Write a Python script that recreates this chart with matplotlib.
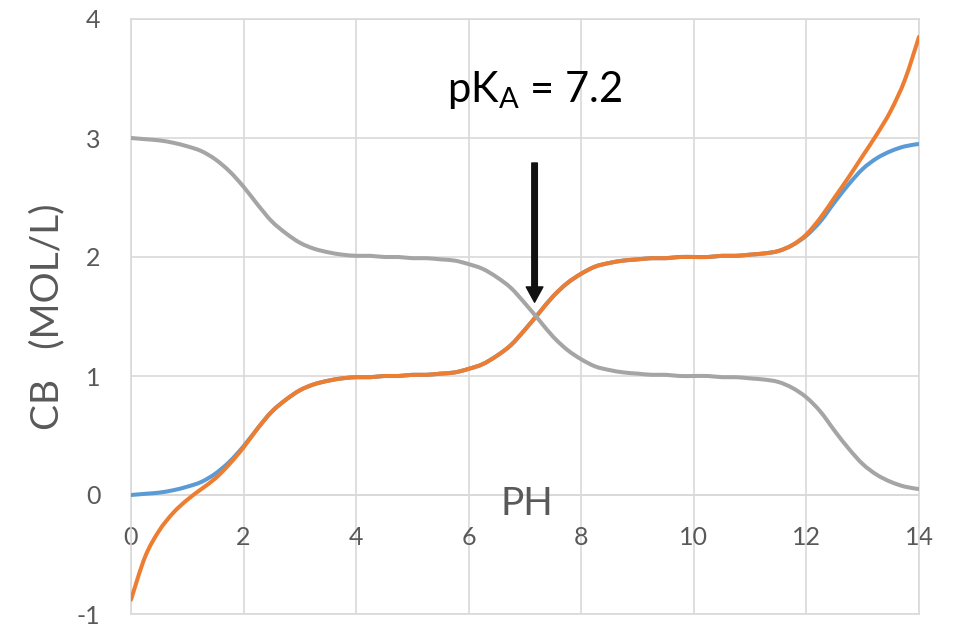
import numpy as np
import matplotlib
matplotlib.use("Agg")
import matplotlib.pyplot as plt
from matplotlib.path import Path
from matplotlib.patches import PathPatch

plt.rcParams['font.family'] = ['Lato', 'DejaVu Sans']
plt.rcParams['axes.unicode_minus'] = False

# pH values (0 .. 14 in quarter steps)
ph = [0, 0.25, 0.5, 0.75, 1, 1.25, 1.5, 1.75, 2, 2.25, 2.5, 2.75, 3, 3.25, 3.5, 3.75,
      4, 4.25, 4.5, 4.75, 5, 5.25, 5.5, 5.75, 6, 6.25, 6.5, 6.75, 7, 7.25, 7.5, 7.75,
      8, 8.25, 8.5, 8.75, 9, 9.25, 9.5, 9.75, 10, 10.25, 10.5, 10.75, 11, 11.25, 11.5, 11.75,
      12, 12.25, 12.5, 12.75, 13, 13.25, 13.5, 13.75, 14]

# Cb without water (blue)
cb_blue = [0.00, 0.01, 0.02, 0.04, 0.07, 0.11, 0.18, 0.28, 0.41, 0.56, 0.70, 0.80, 0.88, 0.93, 0.96, 0.98,
           0.99, 0.99, 1.00, 1.00, 1.01, 1.01, 1.02, 1.03, 1.06, 1.10, 1.17, 1.26, 1.39, 1.53, 1.67, 1.78,
           1.86, 1.92, 1.95, 1.97, 1.98, 1.99, 1.99, 2.00, 2.00, 2.00, 2.01, 2.01, 2.02, 2.03, 2.05, 2.10,
           2.18, 2.30, 2.46, 2.61, 2.74, 2.83, 2.89, 2.93, 2.95]

# Cb with water (orange)
cb_orange = [-0.88, -0.52, -0.30, -0.15, -0.04, 0.05, 0.14, 0.26, 0.40, 0.56, 0.70, 0.80, 0.88, 0.93, 0.96, 0.98,
             0.99, 0.99, 1.00, 1.00, 1.01, 1.01, 1.02, 1.03, 1.06, 1.10, 1.17, 1.26, 1.39, 1.53, 1.67, 1.78,
             1.86, 1.92, 1.95, 1.97, 1.98, 1.99, 1.99, 2.00, 2.00, 2.00, 2.01, 2.01, 2.02, 2.03, 2.05, 2.10,
             2.19, 2.33, 2.50, 2.67, 2.85, 3.03, 3.23, 3.49, 3.85]

# protons left (gray)
cb_gray = [3.00, 2.99, 2.98, 2.96, 2.93, 2.89, 2.82, 2.72, 2.59, 2.44, 2.30, 2.20, 2.12, 2.07, 2.04, 2.02,
           2.01, 2.01, 2.00, 2.00, 1.99, 1.99, 1.98, 1.97, 1.94, 1.90, 1.83, 1.74, 1.61, 1.47, 1.33, 1.22,
           1.14, 1.08, 1.05, 1.03, 1.02, 1.01, 1.01, 1.00, 1.00, 1.00, 0.99, 0.99, 0.98, 0.97, 0.95, 0.90,
           0.82, 0.70, 0.54, 0.39, 0.26, 0.17, 0.11, 0.07, 0.05]

xticks = [0, 2, 4, 6, 8, 10, 12, 14]
yticks = [-1, 0, 1, 2, 3, 4]
pka = 7.2

grid_c = '#d9d9d9'
txt_c = '#595959'


def smooth_line(ax, x, y, color, z):
    # excel style smoothed line: bezier segments through the points
    pts = np.column_stack([x, y])
    n = len(pts)
    verts = [pts[0]]
    codes = [Path.MOVETO]
    for i in range(n - 1):
        p0 = pts[i - 1] if i > 0 else pts[i]
        p1 = pts[i]
        p2 = pts[i + 1]
        p3 = pts[i + 2] if i + 2 < n else pts[i + 1]
        c1 = p1 + (p2 - p0) / 6
        c2 = p2 - (p3 - p1) / 6
        verts += [c1, c2, p2]
        codes += [Path.CURVE4] * 3
    patch = PathPatch(Path(verts, codes), facecolor='none', edgecolor=color,
                      lw=2.9, capstyle='round', joinstyle='round', zorder=z)
    ax.add_patch(patch)


fig = plt.figure(figsize=(9.61, 6.28), dpi=100)
ax = fig.add_axes([131/961, 1 - 614/628, (919-131)/961, (614-19)/628])

smooth_line(ax, ph, cb_blue, '#5b9bd5', 3)
smooth_line(ax, ph, cb_orange, '#ed7d31', 4)
smooth_line(ax, ph, cb_gray, '#a5a5a5', 5)

ax.set_xlim(0, 14)
ax.set_ylim(-1, 4)
ax.set_xticks(xticks)
ax.set_yticks(yticks)
ax.grid(True, color=grid_c, lw=1.2, zorder=0)
ax.set_axisbelow(True)

for s in ['left', 'right', 'top']:
    ax.spines[s].set_color(grid_c)
    ax.spines[s].set_linewidth(1.2)
ax.spines['bottom'].set_position(('data', 0))
ax.spines['bottom'].set_color(grid_c)
ax.spines['bottom'].set_linewidth(1.2)
ax.axhline(-1, color=grid_c, lw=1.2, clip_on=False, zorder=0)

ax.tick_params(axis='x', length=0, pad=22, labelsize=18, labelcolor=txt_c)
ax.tick_params(axis='y', length=0, pad=22, labelsize=18, labelcolor=txt_c)

ax.set_ylabel('CB   (MOL/L)', fontsize=28, color=txt_c, labelpad=8)
ax.text(7.03, -0.17, 'PH', fontsize=28, color=txt_c, ha='center', va='baseline')

ax.text(5.61, 3.30, r'pK$_\mathregular{A}$ = 7.2', fontsize=30, color='black',
        ha='left', va='baseline')
ax.annotate('', xy=(pka - 0.03, 1.62), xytext=(pka - 0.03, 2.79),
            arrowprops=dict(arrowstyle='simple,head_width=1.2,tail_width=0.4,head_length=1.1',
                            color='#111111', shrinkA=0, shrinkB=0), zorder=6)

fig.savefig('out.png', dpi=100)
